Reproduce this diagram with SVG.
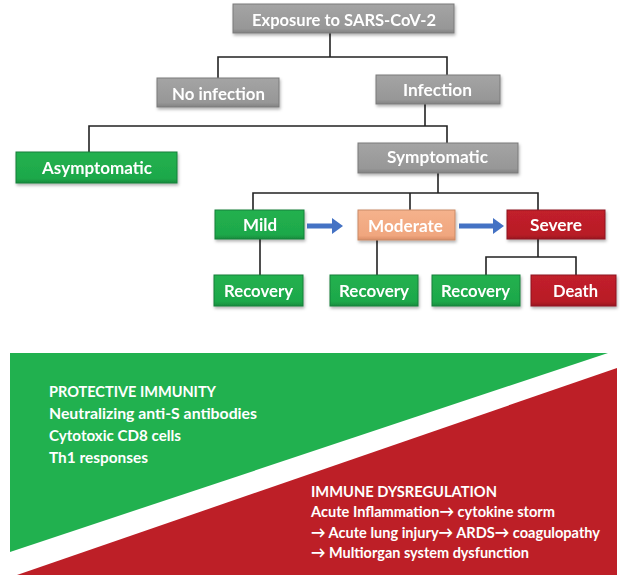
<svg xmlns="http://www.w3.org/2000/svg" width="620" height="575" viewBox="0 0 620 575">
<style>
  .lbl { font-family: Lato, "Open Sans", "Liberation Sans", sans-serif; font-weight: bold; font-size: 17.5px; fill: #ffffff; text-anchor: middle; }
  .ban { font-family: Lato, "Open Sans", "Liberation Sans", sans-serif; font-weight: bold; font-size: 15.5px; fill: #ffffff; }
  .gray { fill: url(#gGray); stroke: #7a7a7a; stroke-width: 1; }
  .green { fill: url(#gGreen); stroke: #15803a; stroke-width: 1; }
  .red { fill: url(#gRed); stroke: #8e1520; stroke-width: 1; }
  .peach { fill: url(#gPeach); stroke: #c98a66; stroke-width: 1; }
  .edge { fill: none; stroke: #222222; stroke-width: 1.6; }
</style>
<defs>
  <linearGradient id="gGray" x1="0" y1="0" x2="0" y2="1">
    <stop offset="0" stop-color="#a4a4a4"/><stop offset="0.85" stop-color="#979797"/><stop offset="1" stop-color="#828282"/>
  </linearGradient>
  <linearGradient id="gGreen" x1="0" y1="0" x2="0" y2="1">
    <stop offset="0" stop-color="#22b14f"/><stop offset="0.85" stop-color="#1ea84a"/><stop offset="1" stop-color="#178d3d"/>
  </linearGradient>
  <linearGradient id="gRed" x1="0" y1="0" x2="0" y2="1">
    <stop offset="0" stop-color="#c2202a"/><stop offset="0.85" stop-color="#b81d27"/><stop offset="1" stop-color="#9b1720"/>
  </linearGradient>
  <linearGradient id="gPeach" x1="0" y1="0" x2="0" y2="1">
    <stop offset="0" stop-color="#f5b28c"/><stop offset="0.85" stop-color="#f0a67e"/><stop offset="1" stop-color="#d98d66"/>
  </linearGradient>
  <filter id="sh" x="-10%" y="-20%" width="120%" height="150%">
    <feDropShadow dx="1" dy="2" stdDeviation="1.5" flood-color="#000000" flood-opacity="0.3"/>
  </filter>
</defs>

<rect x="0" y="0" width="620" height="575" fill="#ffffff"/>

<!-- connectors -->
<g id="connectors">
  <polyline class="edge" points="330,33 330,57"/>
  <polyline class="edge" points="218,78 218,57 447,57 447,75"/>
  <polyline class="edge" points="425,104 425,126"/>
  <polyline class="edge" points="89,152 89,126 447,126 447,143"/>
  <polyline class="edge" points="438,173 438,193"/>
  <polyline class="edge" points="253,210 253,193 538,193 538,210"/>
  <polyline class="edge" points="410,193 410,210"/>
  <polyline class="edge" points="260,239 260,275"/>
  <polyline class="edge" points="377,240 377,275"/>
  <polyline class="edge" points="538,239 538,257"/>
  <polyline class="edge" points="486,275 486,257 576,257 576,275"/>
  <polygon fill="#4472c4" points="307,223.5 332,223.5 332,218 343,226 332,234 332,228.5 307,228.5"/>
  <polygon fill="#4472c4" points="459,223.5 493,223.5 493,218 504,226 493,234 493,228.5 459,228.5"/>
</g>

<g id="n-exposure" filter="url(#sh)">
  <rect class="gray" x="233" y="4" width="221" height="29"/>
  <text class="lbl" x="344" y="26" textLength="184" lengthAdjust="spacingAndGlyphs">Exposure to SARS-CoV-2</text>
</g>
<g id="n-noinfection" filter="url(#sh)">
  <rect class="gray" x="157" y="78" width="122" height="29"/>
  <text class="lbl" x="218.5" y="100" textLength="93" lengthAdjust="spacingAndGlyphs">No infection</text>
</g>
<g id="n-infection" filter="url(#sh)">
  <rect class="gray" x="376" y="75" width="124" height="29"/>
  <text class="lbl" x="437.5" y="96" textLength="69" lengthAdjust="spacingAndGlyphs">Infection</text>
</g>
<g id="n-asymptomatic" filter="url(#sh)">
  <rect class="green" x="16" y="152" width="161" height="31"/>
  <text class="lbl" x="97" y="174" textLength="110" lengthAdjust="spacingAndGlyphs">Asymptomatic</text>
</g>
<g id="n-symptomatic" filter="url(#sh)">
  <rect class="gray" x="358" y="143" width="160" height="30"/>
  <text class="lbl" x="437.5" y="163" textLength="101" lengthAdjust="spacingAndGlyphs">Symptomatic</text>
</g>
<g id="n-mild" filter="url(#sh)">
  <rect class="green" x="215" y="210" width="89" height="29"/>
  <text class="lbl" x="260" y="231" textLength="34" lengthAdjust="spacingAndGlyphs">Mild</text>
</g>
<g id="n-moderate" filter="url(#sh)">
  <rect class="peach" x="358" y="210" width="97" height="30"/>
  <text class="lbl" x="405.5" y="232" textLength="75" lengthAdjust="spacingAndGlyphs">Moderate</text>
</g>
<g id="n-severe" filter="url(#sh)">
  <rect class="red" x="507" y="210" width="98" height="29"/>
  <text class="lbl" x="556" y="231" textLength="52" lengthAdjust="spacingAndGlyphs">Severe</text>
</g>
<g id="n-recovery1" filter="url(#sh)">
  <rect class="green" x="214" y="275" width="89" height="31"/>
  <text class="lbl" x="258.5" y="297" textLength="69" lengthAdjust="spacingAndGlyphs">Recovery</text>
</g>
<g id="n-recovery2" filter="url(#sh)">
  <rect class="green" x="330" y="275" width="88" height="31"/>
  <text class="lbl" x="374" y="297" textLength="70" lengthAdjust="spacingAndGlyphs">Recovery</text>
</g>
<g id="n-recovery3" filter="url(#sh)">
  <rect class="green" x="432" y="275" width="88" height="31"/>
  <text class="lbl" x="475.5" y="297" textLength="69" lengthAdjust="spacingAndGlyphs">Recovery</text>
</g>
<g id="n-death" filter="url(#sh)">
  <rect class="red" x="531" y="275" width="85" height="31"/>
  <text class="lbl" x="575.5" y="297" textLength="45" lengthAdjust="spacingAndGlyphs">Death</text>
</g>

<!-- banner -->
<g id="banner">
  <polygon fill="#21b14f" points="10,353 608,353 10,552"/>
  <polygon fill="#bd1f27" points="617,368 617,575 17,575"/>
  <text class="ban" x="49" y="397" textLength="167" lengthAdjust="spacingAndGlyphs">PROTECTIVE IMMUNITY</text>
  <text class="ban" x="49" y="419" textLength="208" lengthAdjust="spacingAndGlyphs">Neutralizing anti-S antibodies</text>
  <text class="ban" x="49" y="441" textLength="132" lengthAdjust="spacingAndGlyphs">Cytotoxic CD8 cells</text>
  <text class="ban" x="49" y="463" textLength="99" lengthAdjust="spacingAndGlyphs">Th1 responses</text>
  <text class="ban" x="311" y="497" textLength="186" lengthAdjust="spacingAndGlyphs">IMMUNE DYSREGULATION</text>
  <text class="ban" x="311" y="517" textLength="244" lengthAdjust="spacingAndGlyphs">Acute Inflammation→ cytokine storm</text>
  <text class="ban" x="311" y="538" textLength="289" lengthAdjust="spacingAndGlyphs">→ Acute lung injury→ ARDS→ coagulopathy</text>
  <text class="ban" x="311" y="558" textLength="218" lengthAdjust="spacingAndGlyphs">→ Multiorgan system dysfunction</text>
</g>
</svg>
